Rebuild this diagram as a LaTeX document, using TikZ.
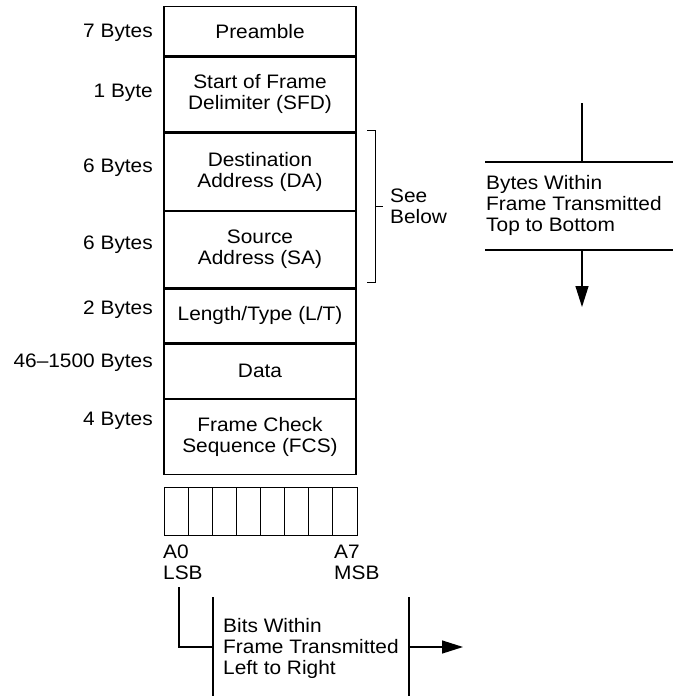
\documentclass[tikz,border=0pt]{standalone}
\usepackage{fontspec}
\setmainfont[FakeStretch=1.07]{Liberation Sans}
\usetikzlibrary{arrows.meta,positioning}
\begin{document}
\begin{tikzpicture}[x=1pt,y=-1pt,
  every node/.style={font=\fontsize{19.5}{21}\selectfont, inner sep=0pt},
  field/.style={draw, line width=1.3pt, minimum width=192pt, align=center},
  lbl/.style={anchor=east, align=right},
  ln/.style={line width=1.3pt},
  arr/.style={line width=1.3pt, -{Triangle[length=21pt,width=13pt]}},
  txt/.style={anchor=west, align=left}]
\useasboundingbox (0,0) rectangle (673,696);
% frame fields
\node[field, minimum height=49pt, anchor=north] (pre) at (260,6) {Preamble};
\node[field, minimum height=75pt, anchor=north] (sfd) at (pre.south) {Start of Frame\\Delimiter (SFD)};
\node[field, minimum height=77pt, anchor=north] (da) at (sfd.south) {Destination\\Address (DA)};
\node[field, minimum height=76pt, anchor=north] (sa) at (da.south) {Source\\Address (SA)};
\node[field, minimum height=54pt, anchor=north] (lt) at (sa.south) {Length/Type (L/T)};
\node[field, minimum height=54pt, anchor=north] (data) at (lt.south) {Data};
\node[field, minimum height=75pt, anchor=north] (fcs) at (data.south) {Frame Check\\Sequence (FCS)};
% left labels
\node[lbl] (l1) at (153,33) {7 Bytes};
\node[lbl] (l2) at (153,93) {1 Byte};
\node[lbl] (l3) at (153,168) {6 Bytes};
\node[lbl] (l4) at (153,245) {6 Bytes};
\node[lbl] (l5) at (153,310) {2 Bytes};
\node[lbl] (l6) at (153,363) {46--1500 Bytes};
\node[lbl] (l7) at (153,421) {4 Bytes};
% bracket
\coordinate (bt) at (375,130);
\coordinate (bb) at (375,282);
\coordinate (bm) at (375,206);
\draw[line width=1pt] ([xshift=-8pt]bt) -- (bt) -- (bb) -- ([xshift=-8pt]bb);
\draw[line width=1pt] (bm) -- ([xshift=8pt]bm);
\node[txt] (see) at (390,206) {See\\Below};
% bytes direction
\coordinate (h1l) at (485,162); \coordinate (h1r) at (673,162);
\coordinate (h2l) at (485,250); \coordinate (h2r) at (673,250);
\draw[ln] (h1l) -- (h1r);
\draw[ln] (h2l) -- (h2r);
\coordinate (vtop) at (582,103);
\coordinate (vmid1) at (582,162);
\coordinate (vmid2) at (582,250);
\coordinate (vbot) at (582,307);
\draw[ln] (vtop) -- (vmid1);
\draw[arr] (vmid2) -- (vbot);
\node[txt] (bytes) at (486,205) {Bytes Within\\Frame Transmitted\\Top to Bottom};
% bit box
\node[draw, line width=1.2pt, minimum width=193pt, minimum height=48pt, anchor=north west] (bitbox) at (164,487) {};
\foreach \i in {1,...,7} {
  \draw[line width=1.2pt] ([xshift={24.125pt*\i}]bitbox.north west) -- ([xshift={24.125pt*\i}]bitbox.south west);
}
\node[anchor=west, align=left] (a0) at (163,562) {A0\\LSB};
\node[anchor=west, align=left] (a7) at (334,562) {A7\\MSB};
% bits direction
\coordinate (c1) at (179,587);
\coordinate (c2) at (179,647);
\coordinate (c3) at (213,647);
\draw[ln] (c1) -- (c2) -- (c3);
\coordinate (v1t) at (213,597); \coordinate (v1b) at (213,696);
\coordinate (v2t) at (409,597); \coordinate (v2b) at (409,696);
\draw[ln] (v1t) -- (v1b);
\draw[ln] (v2t) -- (v2b);
\coordinate (ae) at (409,647); \coordinate (at) at (463,647);
\draw[arr] (ae) -- (at);
\node[txt] (bits) at (223,648) {Bits Within\\Frame Transmitted\\Left to Right};
\end{tikzpicture}
\end{document}
